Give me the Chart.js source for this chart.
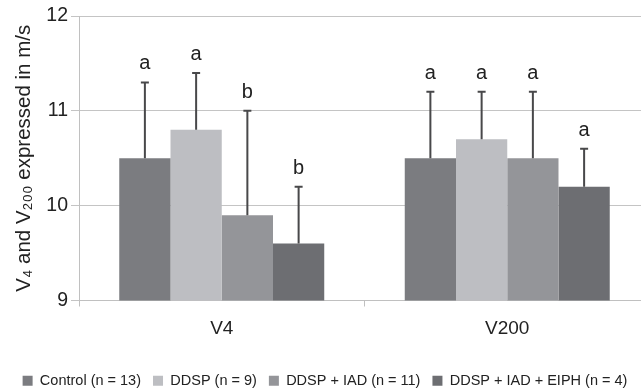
<!DOCTYPE html>
<html>
<head>
<meta charset="utf-8">
<script src="https://cdn.jsdelivr.net/npm/chart.js@4"></script>
<style>
  html, body { margin: 0; padding: 0; background: #fff; overflow: hidden; }
  #wrap { width: 650px; height: 398px; }
</style>
</head>
<body>
<div id="wrap"><canvas id="chart"></canvas></div>
<script>
const categories = ['V4', 'V200'];
const groupNames = ['Control (n = 13)', 'DDSP (n = 9)', 'DDSP + IAD (n = 11)', 'DDSP + IAD + EIPH (n = 4)'];
const groupColors = ['#7b7c80', '#bdbec2', '#949599', '#6d6e72'];

const controlVals = [10.5, 10.5];
const ddspVals = [10.8, 10.7];
const iadVals = [9.9, 10.5];
const eiphVals = [9.6, 10.2];

// upper end of the error bars
const controlErr = [11.3, 11.2];
const ddspErr = [11.4, 11.2];
const iadErr = [11.0, 11.2];
const eiphErr = [10.2, 10.6];

// significance letters
const controlLetters = ['a', 'a'];
const ddspLetters = ['a', 'a'];
const iadLetters = ['b', 'a'];
const eiphLetters = ['b', 'a'];

const yTicks = [9, 10, 11, 12];

const allVals = [controlVals, ddspVals, iadVals, eiphVals];
const allErr = [controlErr, ddspErr, iadErr, eiphErr];
const allLetters = [controlLetters, ddspLetters, iadLetters, eiphLetters];
const FONT = '"Liberation Sans", Arial, sans-serif';

const datasets = groupNames.map((name, i) => ({
    label: name,
    data: allVals[i],
    errTop: allErr[i],
    letters: allLetters[i],
    backgroundColor: groupColors[i],
    borderWidth: 0,
    categoryPercentage: 0.718,
    barPercentage: 1.0
}));

const errorBars = {
    id: 'errorBars',
    afterDatasetsDraw(chart) {
        const ctx = chart.ctx;
        const y = chart.scales.y;
        ctx.save();
        chart.data.datasets.forEach((ds, i) => {
            const meta = chart.getDatasetMeta(i);
            meta.data.forEach((bar, j) => {
                const x = bar.x;
                const yTop = y.getPixelForValue(ds.errTop[j]);
                ctx.strokeStyle = '#48484a';
                ctx.lineWidth = 2;
                ctx.beginPath();
                ctx.moveTo(x, bar.y);
                ctx.lineTo(x, yTop);
                ctx.moveTo(x - 4, yTop);
                ctx.lineTo(x + 4, yTop);
                ctx.stroke();
                ctx.fillStyle = '#222';
                ctx.font = '20px ' + FONT;
                ctx.textAlign = 'center';
                ctx.textBaseline = 'alphabetic';
                ctx.fillText(ds.letters[j], x, yTop - 13);
            });
        });
        ctx.restore();
    }
};

new Chart(document.getElementById('chart'), {
    type: 'bar',
    data: { labels: categories, datasets: datasets },
    plugins: [errorBars],
    options: {
        responsive: true,
        maintainAspectRatio: false,
        animation: false,
        layout: { padding: { top: 16, left: 0, right: 0, bottom: 0 } },
        plugins: {
            legend: {
                position: 'bottom',
                labels: {
                    boxWidth: 10,
                    boxHeight: 10,
                    padding: 12,
                    color: '#222',
                    font: { size: 14.5, family: FONT }
                }
            },
            tooltip: { enabled: false }
        },
        scales: {
            x: {
                afterFit(scale) { scale.height = 61; },
                grid: { display: true, drawOnChartArea: false, offset: true, tickLength: 6, color: '#c0c0c0' },
                border: { color: '#c0c0c0' },
                ticks: { color: '#222', padding: 11, font: { size: 19, family: FONT } }
            },
            y: {
                min: 9,
                max: 12,
                afterBuildTicks(axis) { axis.ticks = yTicks.map(v => ({ value: v })); },
                afterFit(scale) { scale.width = 79; },
                grid: { drawTicks: true, tickLength: 8, color: '#c4c4c4' },
                border: { color: '#c0c0c0' },
                ticks: { color: '#222', padding: 3, font: { size: 19.5, family: FONT } },
                title: {
                    display: true,
                    text: 'V\u2084 and V\u2082\u2080\u2080 expressed in m/s',
                    color: '#222',
                    padding: { top: 12, bottom: 0 },
                    font: { size: 20.5, family: FONT }
                }
            }
        }
    }
});
</script>
</body>
</html>
